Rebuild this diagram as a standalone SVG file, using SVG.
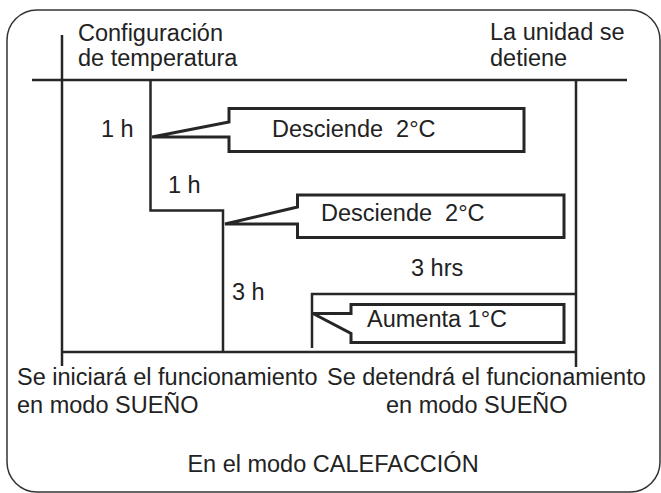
<svg xmlns="http://www.w3.org/2000/svg" width="661" height="493" viewBox="0 0 661 493">
<style>
text{font-family:"Liberation Sans",Arial,sans-serif;font-size:23.5px;fill:#222}
.ln{fill:none;stroke:#262626;stroke-width:2.5}
.box{fill:#fff;stroke:#262626;stroke-width:3;stroke-linejoin:miter}
.frame{fill:none;stroke:#333;stroke-width:1.5}
</style>
<rect class="frame" x="7" y="10" width="653" height="482" rx="30" ry="30"/>
<g id="connectors">
<line class="ln" x1="32" y1="80" x2="627" y2="80"/>
<line class="ln" x1="62" y1="35" x2="62" y2="366"/>
<line class="ln" x1="576" y1="80" x2="576" y2="367"/>
<line class="ln" x1="62" y1="352" x2="576" y2="352"/>
<polyline class="ln" points="150.5,80 150.5,210.5 223,210.5 223,352"/>
<polyline class="ln" points="576,294 312,294 312,348"/>
</g>
<g id="label-config">
<text x="78" y="41">Configuración</text>
<text x="78" y="66">de temperatura</text>
</g>
<g id="label-stop">
<text x="490" y="40">La unidad se</text>
<text x="490" y="66">detiene</text>
</g>
<g id="label-1h-a"><text x="101" y="137">1 h</text></g>
<g id="label-1h-b"><text x="168" y="193">1 h</text></g>
<g id="label-3h"><text x="232" y="300">3 h</text></g>
<g id="label-3hrs"><text x="411" y="276">3 hrs</text></g>
<g id="callout-1">
<path class="box" d="M229,108.5 H524 V151.5 H229 V137 H152 L229,122 Z"/>
<text x="272" y="137" xml:space="preserve">Desciende  2°C</text>
</g>
<g id="callout-2">
<path class="box" d="M297.5,195 H564 V237.5 H297.5 V224 H225 L297.5,207 Z"/>
<text x="321" y="221" xml:space="preserve">Desciende  2°C</text>
</g>
<g id="callout-3">
<path class="box" d="M351,304.5 H564 V342.5 H351 V333.5 L313,313.5 H351 Z"/>
<text x="367" y="327">Aumenta 1°C</text>
</g>
<g id="label-start">
<text x="17" y="385">Se iniciará el funcionamiento</text>
<text x="17" y="413">en modo SUEÑO</text>
</g>
<g id="label-end">
<text x="327" y="385">Se detendrá el funcionamiento</text>
<text x="386" y="413">en modo SUEÑO</text>
</g>
<g id="label-mode">
<text x="333" y="472" text-anchor="middle">En el modo CALEFACCIÓN</text>
</g>
</svg>
